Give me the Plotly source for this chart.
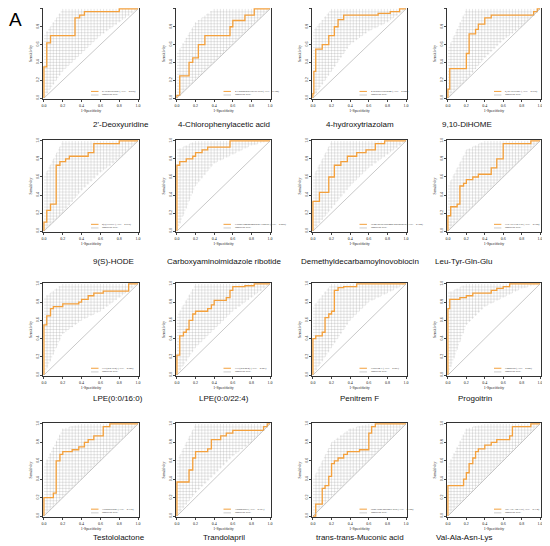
import numpy as np
import plotly.graph_objects as go

# metabolite panels, row by row
NAMES = ["2'-Deoxyuridine", "4-Chlorophenylacetic acid", "4-hydroxytriazolam", "9,10-DiHOME",
         "9(S)-HODE", "Carboxyaminoimidazole ribotide", "Demethyldecarbamoylnovobiocin", "Leu-Tyr-Gln-Glu",
         "LPE(0:0/16:0)", "LPE(0:0/22:4)", "Penitrem F", "Progoitrin",
         "Testololactone", "Trandolapril", "trans-trans-Muconic acid", "Val-Ala-Asn-Lys"]

# ROC step corners (1-specificity at each jump, sensitivity after the jump)
ROC_FPR = [
    [0, 0, 0.03, 0.07, 0.33, 0.38, 0.43, 0.8, 1],
    [0, 0, 0.03, 0.13, 0.17, 0.23, 0.3, 0.57, 0.6, 0.73, 0.83, 1],
    [0, 0, 0.01, 0.03, 0.1, 0.17, 0.23, 0.27, 0.33, 0.7, 0.83, 0.93, 1],
    [0, 0, 0.02, 0.2, 0.23, 0.3, 0.33, 0.4, 0.47, 0.93, 0.97, 1],
    [0, 0, 0.03, 0.07, 0.13, 0.17, 0.23, 0.27, 0.47, 0.53, 0.8, 1],
    [0, 0, 0.03, 0.1, 0.17, 0.2, 0.27, 0.33, 0.57, 1],
    [0, 0, 0.07, 0.17, 0.23, 0.3, 0.37, 0.47, 0.57, 0.67, 0.77, 1],
    [0, 0, 0.03, 0.1, 0.13, 0.17, 0.2, 0.27, 0.33, 0.47, 0.53, 0.6, 0.9, 1],
    [0, 0, 0.03, 0.07, 0.1, 0.2, 0.37, 0.4, 0.47, 0.53, 0.63, 0.9, 1],
    [0, 0, 0.03, 0.07, 0.1, 0.13, 0.17, 0.2, 0.33, 0.37, 0.4, 0.53, 0.57, 0.6, 0.73, 0.83, 1],
    [0, 0, 0.03, 0.1, 0.13, 0.17, 0.2, 0.23, 0.27, 0.33, 0.47, 1],
    [0, 0, 0.02, 0.13, 0.2, 0.27, 0.47, 0.53, 0.6, 0.67, 1],
    [0, 0, 0.1, 0.13, 0.17, 0.2, 0.3, 0.37, 0.43, 0.47, 0.53, 0.63, 0.7, 1],
    [0, 0, 0.13, 0.17, 0.2, 0.33, 0.37, 0.47, 0.53, 0.6, 0.93, 0.97, 1],
    [0, 0.03, 0.1, 0.13, 0.17, 0.2, 0.23, 0.27, 0.33, 0.37, 0.5, 0.6, 0.63, 0.67, 1],
    [0, 0, 0.17, 0.2, 0.23, 0.27, 0.3, 0.33, 0.4, 0.47, 0.53, 0.67, 0.7, 0.9, 1],
]
ROC_TPR = [
    [0, 0.35, 0.62, 0.7, 0.9, 0.93, 0.97, 1, 1],
    [0, 0.03, 0.25, 0.4, 0.45, 0.6, 0.7, 0.8, 0.87, 0.93, 1, 1],
    [0, 0.05, 0.3, 0.55, 0.6, 0.7, 0.8, 0.88, 0.93, 0.95, 0.97, 1, 1],
    [0, 0.1, 0.33, 0.5, 0.72, 0.77, 0.83, 0.9, 0.93, 0.97, 1, 1],
    [0, 0.1, 0.23, 0.3, 0.73, 0.77, 0.8, 0.83, 0.87, 0.97, 1, 1],
    [0, 0.73, 0.77, 0.8, 0.83, 0.87, 0.9, 0.93, 1, 1],
    [0, 0.33, 0.43, 0.6, 0.73, 0.77, 0.83, 0.87, 0.9, 0.97, 1, 1],
    [0, 0.17, 0.27, 0.3, 0.5, 0.53, 0.57, 0.6, 0.63, 0.7, 0.8, 0.97, 1, 1],
    [0, 0.55, 0.65, 0.73, 0.75, 0.78, 0.8, 0.83, 0.87, 0.9, 0.92, 1, 1],
    [0, 0.22, 0.43, 0.47, 0.5, 0.6, 0.67, 0.7, 0.73, 0.77, 0.82, 0.85, 0.93, 0.97, 0.98, 1, 1],
    [0, 0.4, 0.43, 0.47, 0.63, 0.67, 0.7, 0.93, 0.96, 0.97, 1, 1],
    [0, 0.73, 0.83, 0.85, 0.87, 0.9, 0.93, 0.95, 0.97, 1, 1],
    [0, 0.2, 0.25, 0.6, 0.67, 0.7, 0.72, 0.75, 0.8, 0.83, 0.87, 0.97, 1, 1],
    [0, 0.37, 0.5, 0.63, 0.7, 0.73, 0.83, 0.87, 0.9, 0.93, 0.97, 1, 1],
    [0, 0.13, 0.3, 0.33, 0.43, 0.57, 0.6, 0.63, 0.67, 0.7, 0.72, 0.9, 0.97, 1, 1],
    [0, 0.33, 0.4, 0.47, 0.57, 0.63, 0.7, 0.73, 0.77, 0.8, 0.83, 0.87, 0.97, 1, 1],
]

# bootstrap cloud edges, read at 1-specificity = 0, 0.2, ..., 1.0
BAND_X = [0, 0.2, 0.4, 0.6, 0.8, 1.0]
BOOT_LOW = [
    [0, 0.3, 0.5, 0.7, 0.85, 1], [0, 0.2, 0.4, 0.6, 0.8, 1], [0, 0.3, 0.6, 0.75, 0.85, 1],
    [0, 0.2, 0.45, 0.65, 0.8, 1], [0, 0.2, 0.45, 0.65, 0.8, 1], [0, 0.5, 0.75, 0.85, 0.95, 1],
    [0, 0.25, 0.5, 0.7, 0.85, 1], [0, 0.2, 0.4, 0.6, 0.8, 1], [0, 0.45, 0.6, 0.7, 0.85, 1],
    [0, 0.3, 0.5, 0.7, 0.85, 1], [0, 0.3, 0.6, 0.8, 0.9, 1], [0, 0.55, 0.75, 0.85, 0.95, 1],
    [0, 0.2, 0.4, 0.6, 0.8, 1], [0, 0.25, 0.45, 0.65, 0.8, 1], [0, 0.2, 0.4, 0.6, 0.8, 1],
    [0, 0.2, 0.4, 0.6, 0.8, 1],
]
BOOT_HIGH = [
    [0.7, 1, 1, 1, 1, 1], [0.5, 0.85, 1, 1, 1, 1], [0.75, 1, 1, 1, 1, 1],
    [0.55, 1, 1, 1, 1, 1], [0.6, 1, 1, 1, 1, 1], [0.9, 1, 1, 1, 1, 1],
    [0.6, 1, 1, 1, 1, 1], [0.5, 0.9, 1, 1, 1, 1], [0.85, 1, 1, 1, 1, 1],
    [0.65, 1, 1, 1, 1, 1], [0.75, 1, 1, 1, 1, 1], [0.9, 1, 1, 1, 1, 1],
    [0.55, 0.95, 1, 1, 1, 1], [0.6, 1, 1, 1, 1, 1], [0.4, 0.8, 0.95, 1, 1, 1],
    [0.55, 0.95, 1, 1, 1, 1],
]

TICKS = [0, 0.2, 0.4, 0.6, 0.8, 1.0]
TICK_TEXT = ["0.0", "0.2", "0.4", "0.6", "0.8", "1.0"]

# page body keeps its default 8px margin, so the figure is drawn 8px smaller
OFF = 8
W, H = 550 - OFF, 546 - OFF
COL_PX = [(43, 139), (176, 271), (312, 407), (447, 541)]
ROW_PX = [(8, 99), (140, 232), (283, 376), (423, 517)]
NAME_Y = [125, 261, 398, 537]
ORANGE = "#F3A03C"
MESH = "rgba(140,140,140,0.55)"


def px_x(p):
    return min(1.0, max(0.0, (p - OFF) / W))


def px_y(p):
    return min(1.0, max(0.0, 1 - (p - OFF) / H))


def mesh_xy(low, high, n=30):
    xs_fine = np.linspace(0, 1, 501)
    lo_f = np.interp(xs_fine, BAND_X, low)
    hi_f = np.interp(xs_fine, BAND_X, high)
    xs, ys = [], []
    for g in np.linspace(0, 1, n + 1)[1:-1]:
        lo, hi = np.interp(g, BAND_X, low), np.interp(g, BAND_X, high)
        if hi > lo:
            xs += [g, g, None]
            ys += [lo, hi, None]
        m = (lo_f <= g) & (hi_f >= g)
        if m.any():
            xs += [xs_fine[m][0], xs_fine[m][-1], None]
            ys += [g, g, None]
    return xs, ys


fig = go.Figure()
shapes, annotations = [], []
axis_font = dict(family="Liberation Serif", size=4, color="#222")
leg_font = dict(family="Liberation Serif", size=2.6, color="#333")

for i, name in enumerate(NAMES):
    r, c = divmod(i, 4)
    n = i + 1
    xa, ya = "x" if n == 1 else "x%d" % n, "y" if n == 1 else "y%d" % n
    (x0, x1), (y0, y1) = COL_PX[c], ROW_PX[r]

    fig.layout["xaxis" if n == 1 else "xaxis%d" % n] = dict(
        domain=[px_x(x0), px_x(x1)], anchor=ya, range=[-0.01, 1.01], automargin=False,
        tickvals=TICKS, ticktext=TICK_TEXT, tickfont=axis_font, ticks="outside", ticklen=2,
        tickwidth=0.5, showline=True, mirror=True, linecolor="#333", linewidth=0.6,
        showgrid=False, zeroline=False,
        title=dict(text="1-Specificity", font=axis_font, standoff=2))
    fig.layout["yaxis" if n == 1 else "yaxis%d" % n] = dict(
        domain=[px_y(y1), px_y(y0)], anchor=xa, range=[-0.01, 1.01], automargin=False,
        tickvals=TICKS, ticktext=TICK_TEXT, tickfont=axis_font, ticks="outside", ticklen=2,
        tickwidth=0.5, tickangle=-90, showline=True, mirror=True, linecolor="#333",
        linewidth=0.6, showgrid=False, zeroline=False,
        title=dict(text="Sensitivity", font=axis_font, standoff=2))

    mx, my = mesh_xy(BOOT_LOW[i], BOOT_HIGH[i])
    fig.add_trace(go.Scatter(x=mx, y=my, xaxis=xa, yaxis=ya, mode="lines",
                             line=dict(color=MESH, width=0.4), hoverinfo="skip"))

    shapes.append(dict(type="line", xref=xa, yref=ya, x0=0, y0=0, x1=1, y1=1,
                       line=dict(color="#b0b0b0", width=0.7)))

    fpr, tpr = np.array(ROC_FPR[i]), np.array(ROC_TPR[i])
    auc = float(np.sum(np.diff(fpr) * tpr[:-1]))
    fig.add_trace(go.Scatter(x=fpr, y=tpr, xaxis=xa, yaxis=ya, mode="lines",
                             line=dict(color=ORANGE, width=1.3, shape="hv"),
                             name=name, hovertemplate="%{x}, %{y}<extra></extra>"))

    # in-panel legend
    shapes.append(dict(type="line", xref=xa, yref=ya, x0=0.5, x1=0.58, y0=0.075, y1=0.075,
                       line=dict(color=ORANGE, width=1)))
    shapes.append(dict(type="line", xref=xa, yref=ya, x0=0.5, x1=0.58, y0=0.035, y1=0.035,
                       line=dict(color="#aaaaaa", width=0.6)))
    annotations.append(dict(xref=xa, yref=ya, x=0.6, y=0.075, xanchor="left", showarrow=False,
                            text="%s (AUC = %.3f)" % (name, auc), font=leg_font))
    annotations.append(dict(xref=xa, yref=ya, x=0.6, y=0.035, xanchor="left", showarrow=False,
                            text="Bootstrap ROC", font=leg_font))

    annotations.append(dict(xref="paper", yref="paper", x=px_x((x0 + x1) / 2), y=px_y(NAME_Y[r]),
                            yanchor="middle", showarrow=False, text=name,
                            font=dict(family="Liberation Sans", size=8, color="#111")))

annotations.append(dict(xref="paper", yref="paper", x=0, y=1, xanchor="left", yanchor="top",
                        borderpad=0, showarrow=False, text="A",
                        font=dict(family="Liberation Sans", size=19, color="#000")))

fig.update_layout(width=W, height=H, margin=dict(l=0, r=0, t=0, b=0),
                  paper_bgcolor="white", plot_bgcolor="white", showlegend=False,
                  shapes=shapes, annotations=annotations)

fig.write_html("out.html")
